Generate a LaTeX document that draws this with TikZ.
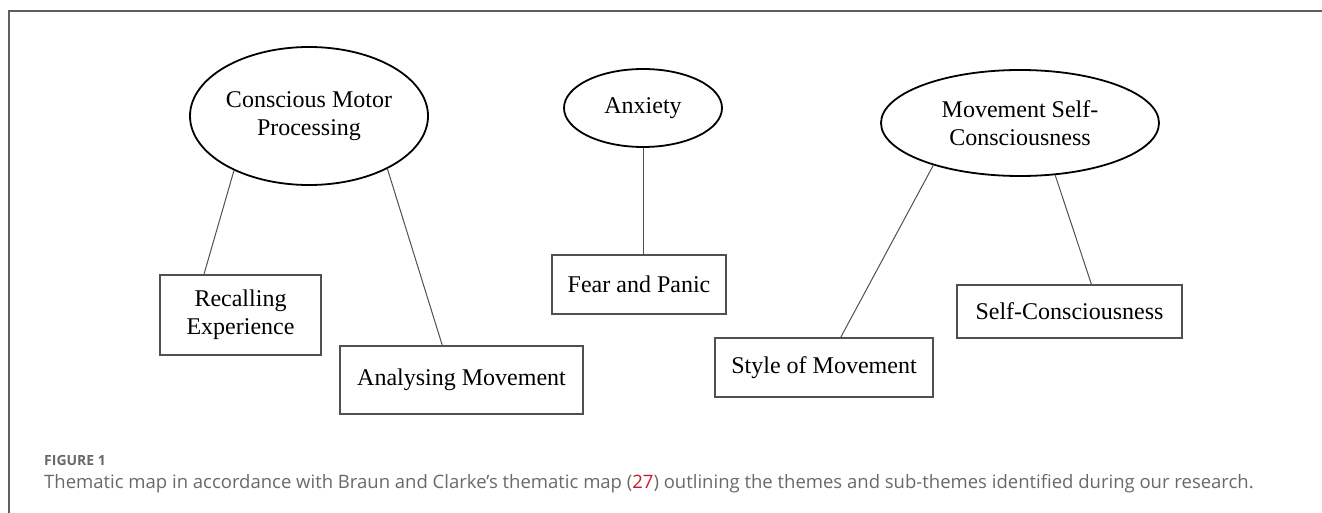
\documentclass[tikz,border=0pt]{standalone}
\usepackage{fontspec}
\setmainfont{Liberation Serif}
\newfontfamily\capfont{Open Sans}
\usetikzlibrary{shapes.geometric}
\definecolor{framegray}{RGB}{95,95,95}
\definecolor{boxgray}{RGB}{80,80,80}
\definecolor{capgray}{RGB}{105,105,105}
\definecolor{refred}{RGB}{200,25,40}

\begin{document}
\begin{tikzpicture}[x=1pt,y=-1pt,
    theme/.style={ellipse,draw=black,line width=1.8pt,inner sep=0pt,align=center,
      font=\fontsize{24}{28}\selectfont},
    subtheme/.style={rectangle,draw=boxgray,line width=1.2pt,inner sep=0pt,align=center,
      font=\fontsize{24}{28}\selectfont},
    link/.style={draw=boxgray,line width=1pt}]
    \useasboundingbox (0,0) rectangle (1322,513);
    \draw[framegray,line width=1.2pt] (1322,11) -- (9,11) -- (9,513);
    % themes
    \node[theme,minimum width=238pt,minimum height=138pt] (cmp) at (309,116) {Conscious Motor\\Processing};
    \node[theme,minimum width=158pt,minimum height=78pt] (anx) at (643,108) {Anxiety};
    \node[theme,minimum width=278pt,minimum height=106pt] (msc) at (1020,123) {Movement Self-\\Consciousness};
    % sub-themes
    \node[subtheme,minimum width=161pt,minimum height=80pt] (rec) at (240.5,315) {Recalling\\Experience};
    \node[subtheme,minimum width=243pt,minimum height=68pt] (ana) at (461.5,380) {Analysing Movement};
    \node[subtheme,minimum width=174pt,minimum height=59pt] (fear) at (639,284.5) {Fear and Panic};
    \node[subtheme,minimum width=218pt,minimum height=59pt] (style) at (824,367.5) {Style of Movement};
    \node[subtheme,minimum width=225pt,minimum height=53pt] (self) at (1069.5,311.5) {Self-Consciousness};
    % links
    \draw[link] (cmp.216) -- (rec.132);
    \draw[link] (cmp.-34) -- (ana.119);
    \draw[link] (anx.south) -- (anx.south |- fear.north);
    \draw[link] (msc.-154) -- (style.61);
    \draw[link] (msc.-56) -- (self.51);
    % caption
    \node[anchor=base west,inner sep=0pt,text=capgray,
      font=\capfont\bfseries\fontsize{14}{16}\selectfont] (figlabel) at (44,465) {FIGURE 1};
    \node[anchor=base west,inner sep=0pt,text=capgray,
      font=\capfont\fontsize{18.5}{22}\selectfont] (caption) at (44,488)
      {Thematic map in accordance with Braun and Clarke’s thematic map (\textcolor{refred}{27}) outlining the themes and sub-themes identified during our research.};
\end{tikzpicture}
\end{document}
